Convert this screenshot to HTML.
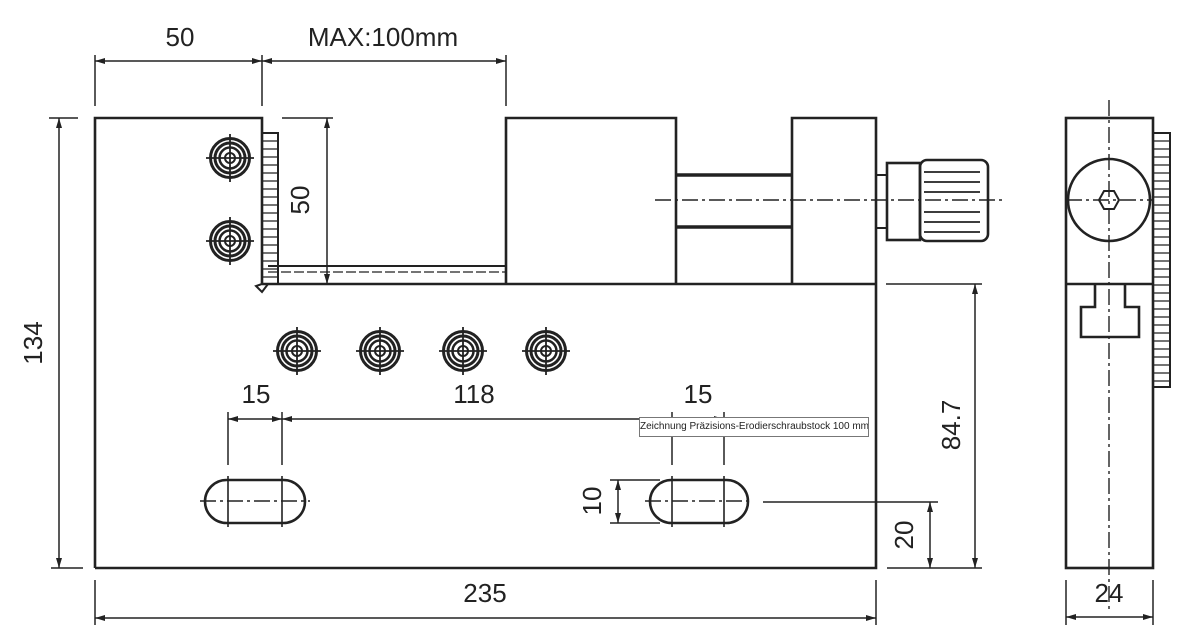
<!DOCTYPE html>
<html><head><meta charset="utf-8"><style>
html,body{margin:0;padding:0;background:#fff;width:1200px;height:638px;overflow:hidden}
svg{display:block}
text{font-family:"Liberation Sans",sans-serif;fill:#222}
.tip{position:absolute;left:639px;top:417px;width:228px;height:18px;border:1px solid #777;background:#fff;font-family:"Liberation Sans",sans-serif;font-size:10px;line-height:18px;text-align:center;color:#222;white-space:nowrap;overflow:hidden}
</style></head><body>
<svg width="1200" height="638" viewBox="0 0 1200 638" xmlns="http://www.w3.org/2000/svg">
<defs>
<marker id="a" viewBox="0 0 10 6" refX="10" refY="3" markerWidth="10" markerHeight="6" orient="auto-start-reverse" markerUnits="userSpaceOnUse"><path d="M0,0 L10,3 L0,6 Z" fill="#222"/></marker>
<g id="scr" stroke="#222" fill="none">
<circle r="19.5" stroke-width="3"/><circle r="15" stroke-width="3"/><circle r="10.5" stroke-width="2.5"/><circle r="5" stroke-width="2"/>
<line x1="-24" y1="0" x2="24" y2="0" stroke-width="1.8"/><line x1="0" y1="-24" x2="0" y2="24" stroke-width="1.8"/>
</g>
</defs>
<g stroke="#222" fill="none" stroke-width="2.6">
<path d="M95,568 L95,118 L262,118 L262,284"/>
<path d="M95,568 L876,568 L876,284"/>
<line x1="262" y1="284" x2="876" y2="284"/>
<path d="M506,284 L506,118 L676,118 L676,284"/>
<path d="M792,284 L792,118 L876,118 L876,284"/>
<line x1="676" y1="175" x2="792" y2="175" stroke-width="3.5"/>
<line x1="676" y1="227" x2="792" y2="227" stroke-width="3.5"/>
<rect x="262" y="133" width="16" height="151" stroke-width="2"/>
<line x1="268" y1="266" x2="506" y2="266" stroke-width="2"/>
<path d="M262,284 L256,286 L262,292 L268,284" stroke-width="2"/>
<rect x="876" y="175" width="11" height="53" stroke-width="2"/>
<rect x="887" y="163" width="33" height="77"/>
<rect x="920" y="160" width="68" height="81" rx="7"/>
<rect x="205" y="480" width="100" height="43" rx="21.5"/>
<rect x="650" y="480" width="98" height="43" rx="21.5"/>
<rect x="1066" y="118" width="87" height="450"/>
<line x1="1066" y1="284" x2="1153" y2="284"/>
<circle cx="1109" cy="200" r="41"/>
<polygon points="1099,200 1104,191 1114,191 1119,200 1114,209 1104,209" stroke-width="2"/>
<path d="M1095,284 L1095,307 L1081,307 L1081,337 L1139,337 L1139,307 L1125,307 L1125,284"/>
<rect x="1153" y="133" width="17" height="254" stroke-width="2"/>
</g>
<g stroke="#222" stroke-width="1.3">
<path d="M262,141h16M262,149h16M262,157h16M262,165h16M262,173h16M262,181h16M262,189h16M262,197h16M262,205h16M262,213h16M262,221h16M262,229h16M262,237h16M262,245h16M262,253h16M262,261h16M262,269h16M262,277h16"/>
<path d="M1153,141h17M1153,149h17M1153,157h17M1153,165h17M1153,173h17M1153,181h17M1153,189h17M1153,197h17M1153,205h17M1153,213h17M1153,221h17M1153,229h17M1153,237h17M1153,245h17M1153,253h17M1153,261h17M1153,269h17M1153,277h17M1153,285h17M1153,293h17M1153,301h17M1153,309h17M1153,317h17M1153,325h17M1153,333h17M1153,341h17M1153,349h17M1153,357h17M1153,365h17M1153,373h17M1153,381h17"/>
<path d="M924,172h56M924,182h56M924,192h56M924,212h56M924,222h56M924,232h56" stroke-width="1.8"/>
<line x1="268" y1="272" x2="506" y2="272" stroke-dasharray="10,3"/>
</g>
<g stroke="#222" stroke-width="1.4" stroke-dasharray="16,4,3,4" fill="none">
<line x1="655" y1="200" x2="1005" y2="200"/>
<line x1="1109" y1="100" x2="1109" y2="610"/>
<line x1="1066" y1="200" x2="1152" y2="200"/>
<line x1="200" y1="501" x2="310" y2="501"/>
<line x1="645" y1="501" x2="753" y2="501"/>
</g>
<g stroke="#222" stroke-width="1.6">
<line x1="228" y1="476" x2="228" y2="527"/><line x1="282" y1="476" x2="282" y2="527"/>
<line x1="672" y1="476" x2="672" y2="527"/><line x1="724" y1="476" x2="724" y2="527"/>
</g>
<use href="#scr" x="230" y="158"/><use href="#scr" x="230" y="241"/>
<use href="#scr" x="297" y="351"/><use href="#scr" x="380" y="351"/><use href="#scr" x="463" y="351"/><use href="#scr" x="546" y="351"/>
<g stroke="#222" stroke-width="1.5" fill="none">
<line x1="95" y1="55" x2="95" y2="106"/><line x1="262" y1="55" x2="262" y2="106"/><line x1="506" y1="55" x2="506" y2="106"/>
<line x1="95" y1="61" x2="262" y2="61" marker-start="url(#a)" marker-end="url(#a)"/>
<line x1="262" y1="61" x2="506" y2="61" marker-start="url(#a)" marker-end="url(#a)"/>
<line x1="49" y1="118" x2="78" y2="118"/><line x1="51" y1="568" x2="83" y2="568"/>
<line x1="59" y1="118" x2="59" y2="568" marker-start="url(#a)" marker-end="url(#a)"/>
<line x1="95" y1="580" x2="95" y2="625"/><line x1="876" y1="580" x2="876" y2="625"/>
<line x1="95" y1="618" x2="876" y2="618" marker-start="url(#a)" marker-end="url(#a)"/>
<line x1="1066" y1="580" x2="1066" y2="625"/><line x1="1153" y1="580" x2="1153" y2="625"/>
<line x1="1066" y1="617" x2="1153" y2="617" marker-start="url(#a)" marker-end="url(#a)"/>
<line x1="282" y1="118" x2="333" y2="118"/>
<line x1="327" y1="118" x2="327" y2="284" marker-start="url(#a)" marker-end="url(#a)"/>
<line x1="886" y1="284" x2="982" y2="284"/><line x1="887" y1="568" x2="982" y2="568"/>
<line x1="975" y1="284" x2="975" y2="568" marker-start="url(#a)" marker-end="url(#a)"/>
<line x1="763" y1="502" x2="938" y2="502"/>
<line x1="930" y1="502" x2="930" y2="568" marker-start="url(#a)" marker-end="url(#a)"/>
<line x1="610" y1="480" x2="660" y2="480"/><line x1="610" y1="523" x2="660" y2="523"/>
<line x1="618" y1="480" x2="618" y2="523" marker-start="url(#a)" marker-end="url(#a)"/>
<line x1="228" y1="412" x2="228" y2="465"/><line x1="282" y1="412" x2="282" y2="465"/>
<line x1="672" y1="412" x2="672" y2="465"/><line x1="724" y1="412" x2="724" y2="465"/>
<line x1="228" y1="419" x2="282" y2="419" marker-start="url(#a)" marker-end="url(#a)"/>
<line x1="282" y1="419" x2="724" y2="419" marker-start="url(#a)" marker-end="url(#a)"/>
</g>
<g font-size="26" text-anchor="middle">
<text x="180" y="46">50</text>
<text x="383" y="46">MAX:100mm</text>
<text x="485" y="602">235</text>
<text x="1109" y="602">24</text>
<text x="256" y="403">15</text>
<text x="474" y="403">118</text>
<text x="698" y="403">15</text>
<text transform="translate(42,343) rotate(-90)">134</text>
<text transform="translate(309,200) rotate(-90)">50</text>
<text transform="translate(960,425) rotate(-90)">84.7</text>
<text transform="translate(913,535) rotate(-90)">20</text>
<text transform="translate(601,501) rotate(-90)">10</text>
</g>
</svg>
<div class="tip">Zeichnung Präzisions-Erodierschraubstock 100 mm</div>
</body></html>
